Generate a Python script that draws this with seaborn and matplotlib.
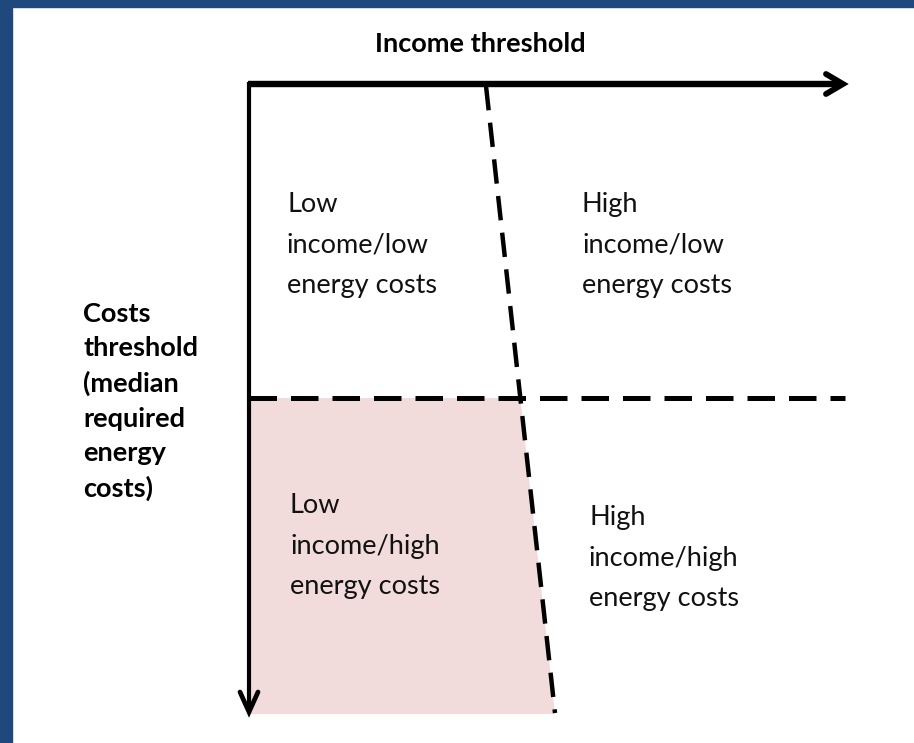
import matplotlib
matplotlib.use("Agg")
import matplotlib.pyplot as plt
from matplotlib.patches import Polygon, Rectangle
import seaborn as sns
import pandas as pd

sns.set_theme(style="white")
plt.rcParams['font.family'] = ['Lato', 'DejaVu Sans']

# --- diagram data (pixel-space coordinates of the schematic) ---
axis_origin = (249, 84)
x_axis_end = (843, 84)
y_axis_end = (249, 712)
income_threshold_x = [486, 555]      # top / bottom x of slanted dashed divider
income_threshold_y = [86, 713]
cost_threshold_y = [398, 398]
cost_threshold_x = [249, 845]
quadrant_labels = ["Low\nincome/low\nenergy costs", "High\nincome/low\nenergy costs",
                   "Low\nincome/high\nenergy costs", "High\nincome/high\nenergy costs"]
quadrant_x = [287, 582, 290, 589]
quadrant_y = [192, 192, 493, 505]
x_title = "Income threshold"
y_title = "Costs\nthreshold\n(median\nrequired\nenergy\ncosts)"

W, H = 914, 743
fig = plt.figure(figsize=(W / 100, H / 100), dpi=100)
ax = fig.add_axes([0, 0, 1, 1])
ax.set_xlim(0, W)
ax.set_ylim(H, 0)
ax.axis("off")

# blue frame
fig.patches.append(Rectangle((0, 0), 12 / W, 1, transform=fig.transFigure, color="#1f497d", zorder=0))
fig.patches.append(Rectangle((0, 1 - 7 / H), 1, 7 / H, transform=fig.transFigure, color="#1f497d", zorder=0))

# shaded quadrant: low income / high energy costs
t = (cost_threshold_y[0] - income_threshold_y[0]) / (income_threshold_y[1] - income_threshold_y[0])
xi = income_threshold_x[0] + t * (income_threshold_x[1] - income_threshold_x[0])
ax.add_patch(Polygon([(251, cost_threshold_y[0]), (xi, cost_threshold_y[0]),
                      (income_threshold_x[1], 714), (251, 714)],
                     closed=True, facecolor="#f2dcdb", edgecolor="none", zorder=1))

# dashed threshold lines via seaborn
df_cost = pd.DataFrame({"x": cost_threshold_x, "y": cost_threshold_y})
sns.lineplot(data=df_cost, x="x", y="y", ax=ax, color="black", linewidth=3.6,
             linestyle=(0, (5.5, 2.8)), zorder=3, sort=False)
df_inc = pd.DataFrame({"x": income_threshold_x, "y": income_threshold_y})
sns.lineplot(data=df_inc, x="x", y="y", ax=ax, color="black", linewidth=3.2,
             linestyle=(0, (5.5, 2.8)), zorder=3, sort=False)
ax.set_xlim(0, W)
ax.set_ylim(H, 0)
ax.set_xlabel("")
ax.set_ylabel("")

# axes arrows
ax.plot([axis_origin[0], axis_origin[0]], [axis_origin[1] - 2, y_axis_end[1] - 2],
        color="black", lw=3.0, solid_capstyle="butt", zorder=4)
ax.plot([axis_origin[0] - 1.5, x_axis_end[0] - 2], [axis_origin[1], axis_origin[1]],
        color="black", lw=4.6, solid_capstyle="butt", zorder=4)
ax.plot([x_axis_end[0] - 17, x_axis_end[0], x_axis_end[0] - 17],
        [axis_origin[1] - 10, axis_origin[1], axis_origin[1] + 10],
        color="black", lw=4.2, solid_joinstyle="miter", solid_capstyle="round", zorder=4)
ax.plot([axis_origin[0] - 9, axis_origin[0], axis_origin[0] + 9],
        [y_axis_end[1] - 20, y_axis_end[1], y_axis_end[1] - 20],
        color="black", lw=3.4, solid_joinstyle="miter", solid_capstyle="round", zorder=4)

# titles
ax.text(480, 44, x_title, ha="center", va="center", fontsize=19.5, fontweight="bold", color="black")
ax.text(83, 302, y_title, ha="left", va="top", fontsize=19.5, fontweight="bold",
        color="black", linespacing=1.51)

for lab, x, y in zip(quadrant_labels, quadrant_x, quadrant_y):
    ax.text(x, y, lab, ha="left", va="top", fontsize=19.5, color="#111111", linespacing=1.78)

fig.savefig("out.png", dpi=100, facecolor="white")
